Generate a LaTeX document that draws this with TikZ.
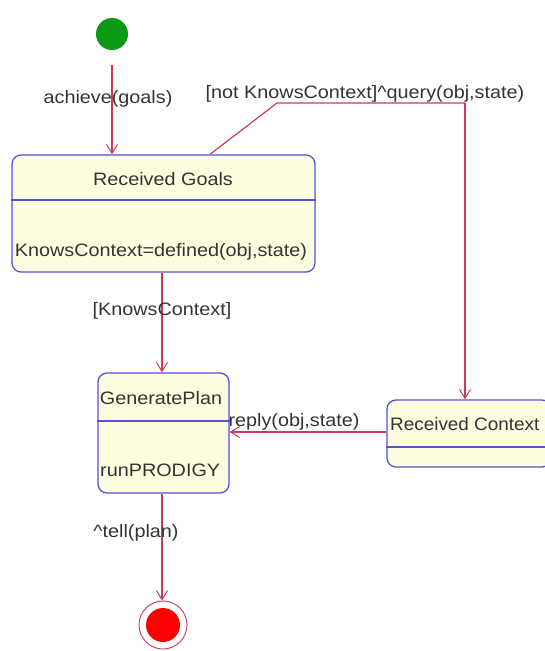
\documentclass[tikz,border=0pt]{standalone}
\usepackage{fontspec}
\setmainfont{Liberation Sans}[FakeStretch=1.1]
\newfontfamily\narrowfont{Liberation Sans}[FakeStretch=1.05]
\usetikzlibrary{arrows.meta}
\definecolor{boxfill}{HTML}{FDFDE0}
\definecolor{boxline}{HTML}{5A50D8}
\definecolor{edgecol}{HTML}{C83C5A}
\definecolor{txt}{HTML}{333333}
\definecolor{initgreen}{HTML}{0A9A14}
\begin{document}
\begin{tikzpicture}[x=1pt,y=-1pt,
  statebox/.style={draw=boxline, line width=1.3pt, fill=boxfill, rounded corners=9pt, inner sep=0pt},
  divider/.style={draw=boxline, line width=1.3pt},
  lbl/.style={text=txt, font=\fontsize{18}{20}\selectfont, inner sep=0pt},
  edge/.style={draw=edgecol, line width=1.2pt, -{Straight Barb[length=9pt,width=11pt,line width=1pt]}},
  plain/.style={draw=edgecol, line width=1.2pt}]
\useasboundingbox (0,0) rectangle (545,651);
% initial state
\node[circle, fill=initgreen, minimum size=32pt, inner sep=0pt] (init) at (112,34) {};
% Received Goals
\node[statebox, minimum width=303pt, minimum height=117pt] (rg) at (163.5,213.5) {};
\draw[divider] (rg.west |- 0,200) coordinate (rgdl) -- (rg.east |- 0,200) coordinate (rgdr);
\node[lbl] (rgt) at (163,179) {Received Goals};
\node[lbl] (rga) at (161,252) {KnowsContext=defined(obj,state)};
% GeneratePlan
\node[statebox, minimum width=131pt, minimum height=120pt] (gp) at (163.5,433) {};
\draw[divider] (gp.west |- 0,421) coordinate (gpdl) -- (gp.east |- 0,421) coordinate (gpdr);
\node[lbl] (gpt) at (161,398) {GeneratePlan};
\node[lbl, anchor=west] (gpa) at (100,470) {runPRODIGY};
% Received Context
\node[statebox, minimum width=164pt, minimum height=67pt] (rc) at (469,433.5) {};
\draw[divider] (rc.west |- 0,447) coordinate (rcdl) -- (rc.east |- 0,447) coordinate (rcdr);
\node[lbl, anchor=west, font=\narrowfont\fontsize{18}{20}\selectfont] (rct) at (390,424) {Received Context};
% final state
\node[circle, draw=edgecol, line width=0.9pt, fill=white, minimum size=48pt, inner sep=0pt] (fin) at (163,625) {};
\node[circle, fill=red, minimum size=34pt, inner sep=0pt] (finin) at (fin.center) {};
% edges
\draw[edge, shorten <=15pt] (init) -- (init |- rg.north);
\node[lbl] (l1) at (108,99) {achieve(goals)};
\coordinate (q1) at (277,103);
\coordinate (q2) at (465,103);
\draw[plain] (rg.north -| 210,0) -- (q1) -- (q2);
\draw[edge] (q2) -- (q2 |- rc.north);
\node[lbl] (l2) at (365,94) {[not KnowsContext]\textasciicircum query(obj,state)};
\draw[edge] (rg.south -| 162,0) -- (gp.north -| 162,0);
\node[lbl] (l3) at (162,311) {[KnowsContext]};
\draw[edge] (rc.west |- 0,432) -- (gp.east |- 0,432);
\node[lbl] (l4) at (294,422) {reply(obj,state)};
\draw[edge] (gp.south -| 162,0) -- (fin.north -| 162,0);
\node[lbl] (l5) at (136,533) {\textasciicircum tell(plan)};
\end{tikzpicture}
\end{document}
